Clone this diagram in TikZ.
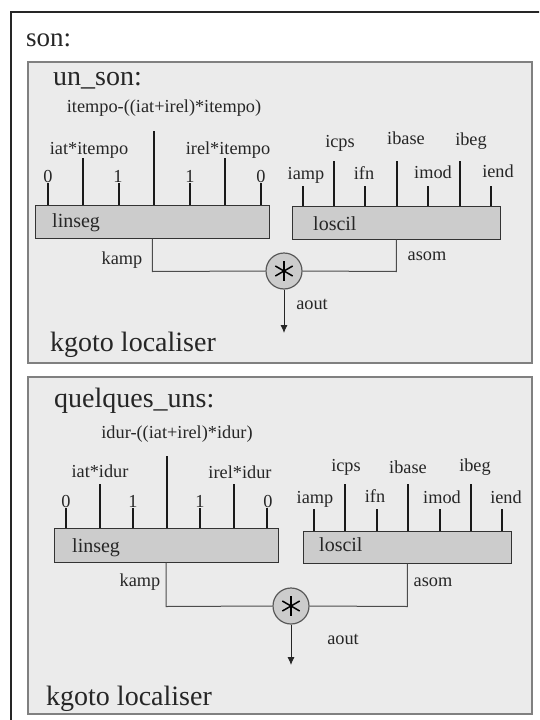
\documentclass[tikz,border=0pt]{standalone}
\usepackage{fontspec}
\usetikzlibrary{arrows.meta}
\setmainfont{Liberation Serif}
\definecolor{panelgray}{HTML}{EBEBEB}
\definecolor{opgray}{HTML}{CCCCCC}
\tikzstyle{panel} = [rectangle, draw=black!50, line width=1.3pt, fill=panelgray]
\tikzstyle{opcode} = [rectangle, draw=black!80, line width=1pt, fill=opgray]
\tikzstyle{multiply} = [circle, draw=black!65, line width=1.2pt, fill=opgray, minimum size=36pt, inner sep=0pt]
\tikzstyle{param} = [font=\fontsize{18.3}{18.3}\selectfont, inner sep=0pt, text=black!85, yshift=-1.5pt]
\tikzstyle{title} = [font=\fontsize{28}{28}\selectfont, inner sep=0pt, anchor=west, text=black!85, yshift=-3pt]
\tikzstyle{opname} = [font=\fontsize{20}{20}\selectfont, inner sep=0pt, anchor=west, text=black!85, yshift=-2pt]
\tikzstyle{tick} = [draw, line width=1.7pt, black!90]
\tikzstyle{wire} = [draw, line width=1pt, black!70]
\tikzstyle{arrow} = [line width=0.9pt,-{Latex[length=8pt,width=7pt]},draw,black!85]
\tikzstyle{star} = [draw, line width=1.5pt, black]

\begin{document}
\begin{tikzpicture}[x=1pt,y=-1pt]

	\useasboundingbox (0,0) rectangle (539,720);
	\clip (0,0) rectangle (539,720);

	%Outer frame, cut by the page on two sides
	\coordinate(FrameA) at (11,724);
	\coordinate(FrameB) at (11,12);
	\coordinate(FrameC) at (543,12);
	\path[draw,line width=1.5pt,black!85] (FrameA) -- (FrameB) -- (FrameC);
	\node[title, font=\fontsize{27}{27}\selectfont](SonTitle) at (26,37) {son:};

	%Upper panel
	\node[panel, minimum width=504pt, minimum height=301pt](UnPanel) at (280,212.5) {};
	\node[title](UnTitle) at (53,78) {un\_son:};
	\node[title](UnKgoto) at (50,342) {kgoto localiser};

	\node[opcode, minimum width=234.5pt, minimum height=33pt](UnLinseg) at (152.25,221.5) {};
	\node[opname](UnLinsegName) at (52,221) {linseg};
	\node[opcode, minimum width=208.5pt, minimum height=33pt](UnLoscil) at (396.25,222.5) {};
	\node[opname](UnLoscilName) at (313,222) {loscil};
	\node[multiply](UnMul) at (284,271) {};

	%Free ends of the upper inputs
	\coordinate(UnL1) at (48,183);
	\coordinate(UnL2) at (83,158);
	\coordinate(UnL3) at (119,183);
	\coordinate(UnL4) at (154,131);
	\coordinate(UnL5) at (190,183);
	\coordinate(UnL6) at (225,158);
	\coordinate(UnL7) at (261,183);
	\coordinate(UnO1) at (303,186);
	\coordinate(UnO2) at (334,161);
	\coordinate(UnO3) at (365,186);
	\coordinate(UnO4) at (397,161);
	\coordinate(UnO5) at (428,186);
	\coordinate(UnO6) at (460,161);
	\coordinate(UnO7) at (491,186);
	\coordinate(UnOut) at (284,333);

	\path[tick] (UnL1) -- (UnL1 |- UnLinseg.north);
	\path[tick] (UnL2) -- (UnL2 |- UnLinseg.north);
	\path[tick] (UnL3) -- (UnL3 |- UnLinseg.north);
	\path[tick] (UnL4) -- (UnL4 |- UnLinseg.north);
	\path[tick] (UnL5) -- (UnL5 |- UnLinseg.north);
	\path[tick] (UnL6) -- (UnL6 |- UnLinseg.north);
	\path[tick] (UnL7) -- (UnL7 |- UnLinseg.north);
	\path[tick] (UnO1) -- (UnO1 |- UnLoscil.north);
	\path[tick] (UnO2) -- (UnO2 |- UnLoscil.north);
	\path[tick] (UnO3) -- (UnO3 |- UnLoscil.north);
	\path[tick] (UnO4) -- (UnO4 |- UnLoscil.north);
	\path[tick] (UnO5) -- (UnO5 |- UnLoscil.north);
	\path[tick] (UnO6) -- (UnO6 |- UnLoscil.north);
	\path[tick] (UnO7) -- (UnO7 |- UnLoscil.north);

	\path[wire] (UnLinseg.south) -- ++(0,33) -- (UnMul.west);
	\path[wire] (UnLoscil.south) -- ++(0,32) -- (UnMul.east);
	\path[arrow] (UnMul.south) -- (UnOut);
	\path[star] ([yshift=10pt]UnMul.center) -- ([yshift=-10pt]UnMul.center);
	\path[star] ([shift={(30:10pt)}]UnMul.center) -- ([shift={(210:10pt)}]UnMul.center);
	\path[star] ([shift={(150:10pt)}]UnMul.center) -- ([shift={(330:10pt)}]UnMul.center);

	\node[param](UnTotal) at (164,107) {itempo-((iat+irel)*itempo)};
	\node[param](UnIat) at (89,149) {iat*itempo};
	\node[param](UnIrel) at (228,149) {irel*itempo};
	\node[param](UnZeroA) at (48,175) {0};
	\node[param](UnOneA) at (118,175) {1};
	\node[param](UnOneB) at (190,175) {1};
	\node[param](UnZeroB) at (261,175) {0};
	\node[param](UnKamp) at (122,259) {kamp};
	\node[param](UnIamp) at (306,174) {iamp};
	\node[param](UnIcps) at (340,142) {icps};
	\node[param](UnIfn) at (364,172) {ifn};
	\node[param](UnIbase) at (406,137) {ibase};
	\node[param](UnImod) at (433,171) {imod};
	\node[param](UnIbeg) at (471,140) {ibeg};
	\node[param](UnIend) at (498,170) {iend};
	\node[param](UnAsom) at (427,255) {asom};
	\node[param](UnAout) at (312,303) {aout};

	%Lower panel
	\node[panel, minimum width=504pt, minimum height=337pt](QuPanel) at (280,545.5) {};
	\node[title](QuTitle) at (54,398) {quelques\_uns:};
	\node[title](QuKgoto) at (46,696) {kgoto localiser};

	\node[opcode, minimum width=224pt, minimum height=34pt](QuLinseg) at (166,545) {};
	\node[opname](QuLinsegName) at (72,546) {linseg};
	\node[opcode, minimum width=208.5pt, minimum height=32pt](QuLoscil) at (407.25,547) {};
	\node[opname](QuLoscilName) at (319,543) {loscil};
	\node[multiply](QuMul) at (291,606) {};

	%Free ends of the lower inputs
	\coordinate(QuL1) at (66,508);
	\coordinate(QuL2) at (100,484);
	\coordinate(QuL3) at (133,508);
	\coordinate(QuL4) at (167,456);
	\coordinate(QuL5) at (200,508);
	\coordinate(QuL6) at (234,484);
	\coordinate(QuL7) at (267,508);
	\coordinate(QuO1) at (314,509);
	\coordinate(QuO2) at (345,484);
	\coordinate(QuO3) at (377,509);
	\coordinate(QuO4) at (408,484);
	\coordinate(QuO5) at (440,509);
	\coordinate(QuO6) at (471,484);
	\coordinate(QuO7) at (502,509);
	\coordinate(QuOut) at (291,665);

	\path[tick] (QuL1) -- (QuL1 |- QuLinseg.north);
	\path[tick] (QuL2) -- (QuL2 |- QuLinseg.north);
	\path[tick] (QuL3) -- (QuL3 |- QuLinseg.north);
	\path[tick] (QuL4) -- (QuL4 |- QuLinseg.north);
	\path[tick] (QuL5) -- (QuL5 |- QuLinseg.north);
	\path[tick] (QuL6) -- (QuL6 |- QuLinseg.north);
	\path[tick] (QuL7) -- (QuL7 |- QuLinseg.north);
	\path[tick] (QuO1) -- (QuO1 |- QuLoscil.north);
	\path[tick] (QuO2) -- (QuO2 |- QuLoscil.north);
	\path[tick] (QuO3) -- (QuO3 |- QuLoscil.north);
	\path[tick] (QuO4) -- (QuO4 |- QuLoscil.north);
	\path[tick] (QuO5) -- (QuO5 |- QuLoscil.north);
	\path[tick] (QuO6) -- (QuO6 |- QuLoscil.north);
	\path[tick] (QuO7) -- (QuO7 |- QuLoscil.north);

	\path[wire] (QuLinseg.south) -- ++(0,44) -- (QuMul.west);
	\path[wire] (QuLoscil.south) -- ++(0,43) -- (QuMul.east);
	\path[arrow] (QuMul.south) -- (QuOut);
	\path[star] ([yshift=10pt]QuMul.center) -- ([yshift=-10pt]QuMul.center);
	\path[star] ([shift={(30:10pt)}]QuMul.center) -- ([shift={(210:10pt)}]QuMul.center);
	\path[star] ([shift={(150:10pt)}]QuMul.center) -- ([shift={(330:10pt)}]QuMul.center);

	\node[param](QuTotal) at (177,433) {idur-((iat+irel)*idur)};
	\node[param](QuIat) at (100,470) {iat*idur};
	\node[param](QuIrel) at (240,471) {irel*idur};
	\node[param](QuZeroA) at (66,500) {0};
	\node[param](QuOneA) at (133,500) {1};
	\node[param](QuOneB) at (200,500) {1};
	\node[param](QuZeroB) at (268,500) {0};
	\node[param](QuKamp) at (140,581) {kamp};
	\node[param](QuIamp) at (315,498) {iamp};
	\node[param](QuIcps) at (346,466) {icps};
	\node[param](QuIfn) at (375,495) {ifn};
	\node[param](QuIbase) at (408,466) {ibase};
	\node[param](QuImod) at (442,496) {imod};
	\node[param](QuIbeg) at (475,466) {ibeg};
	\node[param](QuIend) at (506,496) {iend};
	\node[param](QuAsom) at (433,581) {asom};
	\node[param](QuAout) at (343,638) {aout};
\end{tikzpicture}
\end{document}
